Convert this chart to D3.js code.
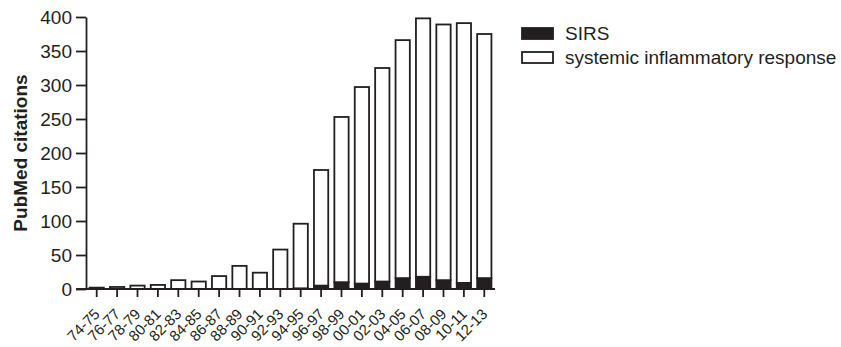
<!DOCTYPE html>
<html>
<head>
<meta charset="utf-8">
<script src="https://cdn.jsdelivr.net/npm/d3@7"></script>
<style>
  body { margin: 0; background: #fff; }
  text { font-family: 'Liberation Sans', Arial, sans-serif; fill: #231f20; }
</style>
</head>
<body>
<div id="chart-container"></div>
<script>
// two-year periods
const periods = ['74-75', '76-77', '78-79', '80-81', '82-83', '84-85', '86-87', '88-89', '90-91', '92-93',
  '94-95', '96-97', '98-99', '00-01', '02-03', '04-05', '06-07', '08-09', '10-11', '12-13'];
// SIRS citations (black, bottom of stack)
const sirs = [0, 0, 0, 0, 0, 0, 0, 0, 0, 0, 1, 5, 10, 8, 11, 16, 18, 13, 9, 16];
// systemic inflammatory response citations (white, on top)
const systemic = [2, 3, 5, 6, 13, 11, 19, 34, 24, 58, 95, 170, 243, 289, 314, 350, 380, 376, 382, 359];
const yTicks = [0, 50, 100, 150, 200, 250, 300, 350, 400];

const ink = '#231f20';
const W = 841, H = 347;
const x0 = 86, x1 = 495, yTop = 17, yBottom = 289;

const rows = periods.map((p, i) => ({ period: p, sirs: sirs[i], systemic: systemic[i] }));
const stack = d3.stack().keys(['sirs', 'systemic'])(rows);

const x = d3.scaleBand().domain(periods).range([x0, x1]).paddingInner(0.3).paddingOuter(0.175);
const y = d3.scaleLinear().domain([0, 400]).range([yBottom, yTop]);

const svg = d3.select('#chart-container')
  .append('svg')
  .attr('width', W)
  .attr('height', H);

// bars
const fills = { sirs: ink, systemic: '#fff' };
svg.append('g')
  .selectAll('g')
  .data(stack)
  .join('g')
  .attr('fill', (d) => fills[d.key])
  .selectAll('rect')
  .data((d) => d.filter((s) => s[1] - s[0] > 0))
  .join('rect')
  .attr('x', (d) => x(d.data.period))
  .attr('width', x.bandwidth())
  .attr('y', (d) => y(d[1]))
  .attr('height', (d) => y(d[0]) - y(d[1]))
  .attr('stroke', ink)
  .attr('stroke-width', 1.8);

// y axis
svg.append('g')
  .attr('transform', `translate(${x0},0)`)
  .call(d3.axisLeft(y).tickValues(yTicks).tickSize(10).tickPadding(4).tickSizeOuter(0))
  .call((g) => g.selectAll('line, path').attr('stroke', ink).attr('stroke-width', 1.8))
  .call((g) => g.selectAll('text').style('font-size', '19px').attr('fill', ink).attr('font-family', null));

// x axis
svg.append('g')
  .attr('transform', `translate(0,${yBottom})`)
  .call(d3.axisBottom(x).tickSize(8).tickSizeOuter(0))
  .call((g) => g.select('.domain').attr('d', `M${x0 - 10},0H${x1}`))
  .call((g) => g.selectAll('line, path').attr('stroke', ink).attr('stroke-width', 1.8))
  .call((g) => g.selectAll('text')
    .attr('font-family', null)
    .style('font-size', '15px')
    .attr('fill', ink)
    .attr('text-anchor', 'end')
    .attr('dy', null)
    .attr('y', 0)
    .attr('transform', 'translate(4,26) rotate(-45)'));

// y axis title
svg.append('text')
  .attr('transform', `translate(27,${(yTop + yBottom) / 2}) rotate(-90)`)
  .attr('text-anchor', 'middle')
  .style('font-size', '19px')
  .style('font-weight', 'bold')
  .text('PubMed citations');

// legend
const legend = [
  { label: 'SIRS', fill: ink },
  { label: 'systemic inflammatory response', fill: '#fff' }
];
const lg = svg.append('g')
  .selectAll('g')
  .data(legend)
  .join('g')
  .attr('transform', (d, i) => `translate(522,${28 + i * 24})`);
lg.append('rect')
  .attr('width', 31)
  .attr('height', 11)
  .attr('fill', (d) => d.fill)
  .attr('stroke', ink)
  .attr('stroke-width', 1.8);
lg.append('text')
  .attr('x', 43)
  .attr('y', 12)
  .style('font-size', '19px')
  .text((d) => d.label);
</script>
</body>
</html>
